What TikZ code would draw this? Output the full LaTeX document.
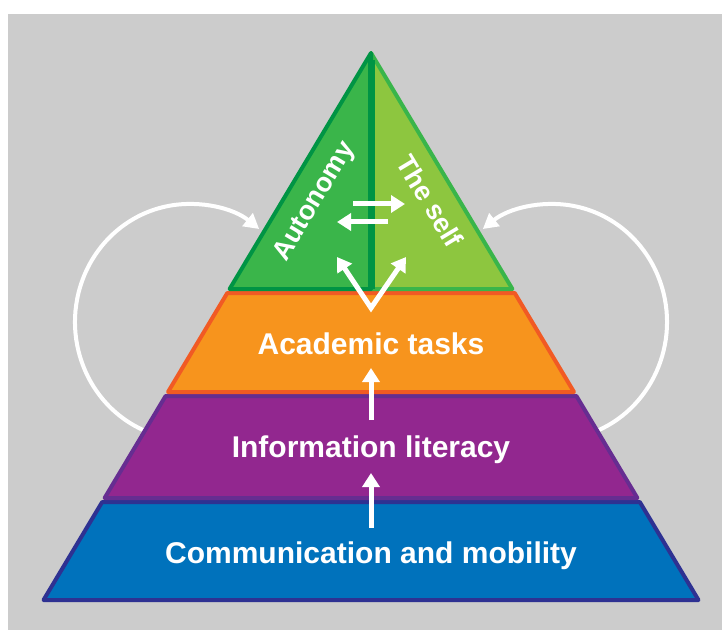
\documentclass[tikz,border=0pt]{standalone}
\usepackage{fontspec}
\setmainfont{Liberation Sans}
\usetikzlibrary{arrows.meta}

\definecolor{bgGray}{HTML}{CCCCCC}
\definecolor{autoFill}{HTML}{3AB54A}
\definecolor{autoLine}{HTML}{009444}
\definecolor{selfFill}{HTML}{8DC63F}
\definecolor{selfLine}{HTML}{39B54A}
\definecolor{taskFill}{HTML}{F7941D}
\definecolor{taskLine}{HTML}{F15A24}
\definecolor{infoFill}{HTML}{92278F}
\definecolor{infoLine}{HTML}{662D91}
\definecolor{commFill}{HTML}{0072BC}
\definecolor{commLine}{HTML}{2E3192}

\tikzset{layer/.style 2 args={fill=#1, draw=#2, line width=4pt, line join=round}}

\begin{document}
\begin{tikzpicture}[%
	x=1pt,y=1pt,
	every node/.style = {text=white, inner sep=0pt, font=\bfseries\fontsize{30}{36}\selectfont},
	sideText/.style={font=\bfseries\fontsize{27}{32}\selectfont},
	flow/.style={draw=white, line width=5pt, -{Triangle[length=14pt,width=17pt]}},
	loopArrow/.style={draw=white, line width=4pt, -{Triangle[length=15pt,width=16pt]}}
	]
  \useasboundingbox (0,0) rectangle (722,630);
  \fill[white] (0,0) rectangle (722,630);
  \fill[bgGray] (8,0) rectangle (722,616);

  % feedback loops, behind the pyramid
  \coordinate (loopL) at (150,197.1);
  \coordinate (loopR) at (592,197.1);
  \draw[loopArrow] (loopL) arc[start angle=250, end angle=52, x radius=114, y radius=118];
  \draw[loopArrow] (loopR) arc[start angle=-70, end angle=128, x radius=114, y radius=118];

  % layers
  \draw[layer={commFill}{commLine}] (43.5,30) -- (698.5,30) -- (639.8,128) -- (102.2,128) -- cycle;
  \draw[layer={infoFill}{infoLine}] (104.6,132) -- (637.4,132) -- (576.4,234) -- (165.6,234) -- cycle;
  \draw[layer={taskFill}{taskLine}] (168,238) -- (574,238) -- (514.7,337) -- (227.3,337) -- cycle;
  \draw[layer={selfFill}{selfLine}] (371,577) -- (512.4,341) -- (371,341) -- cycle;
  \draw[layer={autoFill}{autoLine}] (371,577) -- (229.6,341) -- (371,341) -- cycle;
  \draw[autoLine, line width=7pt] (371,570) -- (371,341);

  \node[anchor=base] (tasks) at (371,276) {Academic tasks};
  \node[anchor=base] (literacy) at (371,173) {Information literacy};
  \node[anchor=base] (comm) at (371,67) {Communication and mobility};
  \node[sideText, rotate=59] (autonomy) at (315,428) {Autonomy};
  \node[sideText, rotate=-59] (self) at (430,429) {The self};

  % arrows
  \coordinate (swapA) at (353,426);
  \coordinate (swapB) at (405,426);
  \coordinate (swapC) at (388,408);
  \coordinate (swapD) at (337,408);
  \draw[flow] (swapA) -- (swapB);
  \draw[flow] (swapC) -- (swapD);
  \coordinate (vee) at (371,322);
  \coordinate (veeL) at (337,373);
  \coordinate (veeR) at (406,373);
  \draw[flow, {Triangle[length=14pt,width=17pt]}-{Triangle[length=14pt,width=17pt]}, line join=miter] (veeL) -- (vee) -- (veeR);
  \coordinate (upA) at (371,210);
  \coordinate (upB) at (371,262);
  \coordinate (upC) at (371,102);
  \coordinate (upD) at (371,157);
  \draw[flow] (upA) -- (upB);
  \draw[flow] (upC) -- (upD);
\end{tikzpicture}
\end{document}
